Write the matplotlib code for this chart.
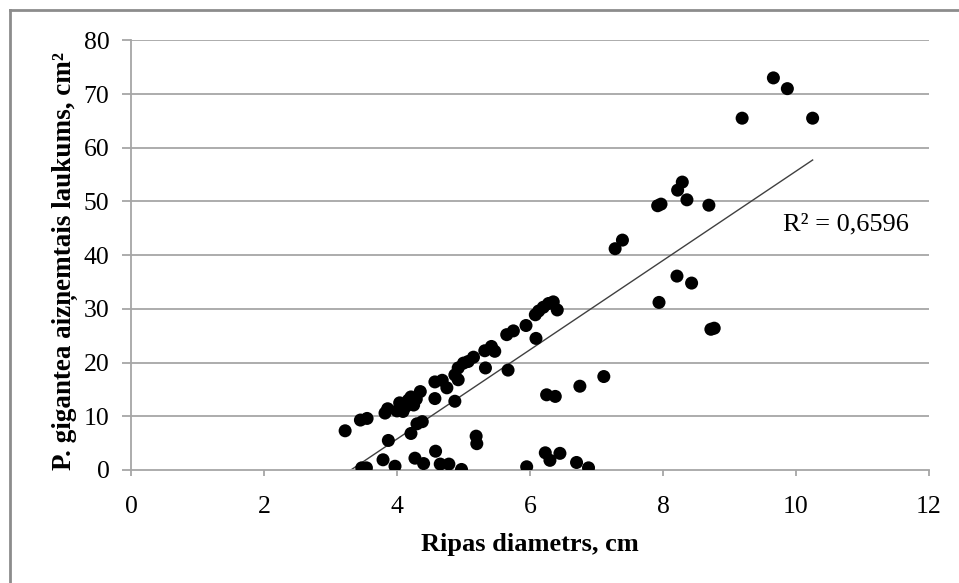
import numpy as np
import matplotlib
matplotlib.use("Agg")
import matplotlib.pyplot as plt
from matplotlib.lines import Line2D

diam = [3.22, 3.45, 3.55, 3.47, 3.54, 3.79, 3.82, 3.86, 3.87, 3.97,
        4.00, 4.04, 4.09, 4.13, 4.17, 4.21, 4.25, 4.29, 4.35, 4.21,
        4.30, 4.38, 4.27, 4.40, 4.58, 4.57, 4.57, 4.68, 4.75, 4.65,
        4.78, 4.87, 4.87, 4.92, 4.92, 4.97, 5.00, 5.07, 5.15, 5.19,
        5.20, 5.32, 5.33, 5.42, 5.47, 5.65, 5.67, 5.75, 5.94, 5.95,
        6.08, 6.09, 6.13, 6.20, 6.28, 6.35, 6.41, 6.25, 6.38, 6.23,
        6.30, 6.45, 6.70, 6.88, 6.75, 7.11, 7.28, 7.39, 7.92, 7.97,
        7.94, 8.21, 8.22, 8.29, 8.36, 8.43, 8.69, 8.72, 8.77, 9.19,
        9.66, 9.87, 10.25]
area = [7.3, 9.3, 9.6, 0.4, 0.4, 1.9, 10.6, 11.4, 5.5, 0.7,
        11.0, 12.5, 10.9, 11.8, 13.0, 13.6, 12.1, 13.2, 14.6, 6.8,
        8.6, 9.0, 2.2, 1.2, 3.5, 13.3, 16.4, 16.7, 15.3, 1.1,
        1.1, 12.8, 17.7, 16.8, 19.0, 0.1, 19.9, 20.2, 21.0, 6.3,
        4.9, 22.2, 19.0, 23.0, 22.1, 25.2, 18.6, 25.9, 26.9, 0.6,
        28.9, 24.5, 29.6, 30.3, 31.0, 31.3, 29.8, 14.0, 13.7, 3.2,
        1.8, 3.1, 1.4, 0.4, 15.6, 17.4, 41.2, 42.8, 49.2, 49.5,
        31.2, 36.1, 52.1, 53.6, 50.3, 34.8, 49.3, 26.2, 26.4, 65.5,
        73.0, 71.0, 65.5]

x_ticks = [0, 2, 4, 6, 8, 10, 12]
y_ticks = [0, 10, 20, 30, 40, 50, 60, 70, 80]
x_label = "Ripas diametrs, cm"
y_label = "P. gigantea aizņemtais laukums, cm²"
r2_text = "R² = 0,6596"

plt.rcParams['font.family'] = ['Liberation Serif', 'DejaVu Serif']

W, H = 959, 583
fig = plt.figure(figsize=(W / 100, H / 100), dpi=100)
ax = fig.add_axes([131 / W, 1 - 470 / H, (929 - 131) / W, (470 - 40.3) / H])

grid_c = '#a6a6a6'
for yv in y_ticks[1:]:
    ax.axhline(yv, color=grid_c, lw=1.3, zorder=0)

x = np.array(diam)
y = np.array(area)
ax.scatter(x, y, s=88, color='black', edgecolors='none', zorder=3)

slope, intercept = np.polyfit(x, y, 1)
xl = np.array([x.min(), x.max()])
ax.plot(xl, slope * xl + intercept, color='#404040', lw=1.0, zorder=2)

ax.set_xlim(0, 12)
ax.set_ylim(0, 80)
ax.set_xticks(x_ticks)
ax.set_yticks(y_ticks)
ax.set_xticklabels([str(v) for v in x_ticks])
ax.set_yticklabels([str(v) for v in y_ticks])

for s in ['top', 'right']:
    ax.spines[s].set_visible(False)
for s in ['left', 'bottom']:
    ax.spines[s].set_color(grid_c)
    ax.spines[s].set_linewidth(1.3)

ax.tick_params(axis='both', colors=grid_c, labelcolor='black', labelsize=18.5,
               width=1.3, direction='out')
ax.tick_params(axis='y', length=6.5, pad=9)
ax.tick_params(axis='x', length=4.5, pad=14)

ax.set_xlabel(x_label, fontsize=19, fontweight='bold', labelpad=11)
ax.set_ylabel(y_label, fontsize=19.5, fontweight='bold', labelpad=7)
ax.yaxis.set_label_coords(-0.066, 0.486)

ax.text(9.8, 45.8, r2_text, fontsize=19, va='center', ha='left')

fig.add_artist(Line2D([10 / W, 10 / W], [1 - 10 / H, 0], transform=fig.transFigure,
                      color='#8c8c8c', lw=2))
fig.add_artist(Line2D([10 / W, 1], [1 - 10 / H, 1 - 10 / H], transform=fig.transFigure,
                      color='#8c8c8c', lw=2))

fig.savefig('out.png', dpi=100)
